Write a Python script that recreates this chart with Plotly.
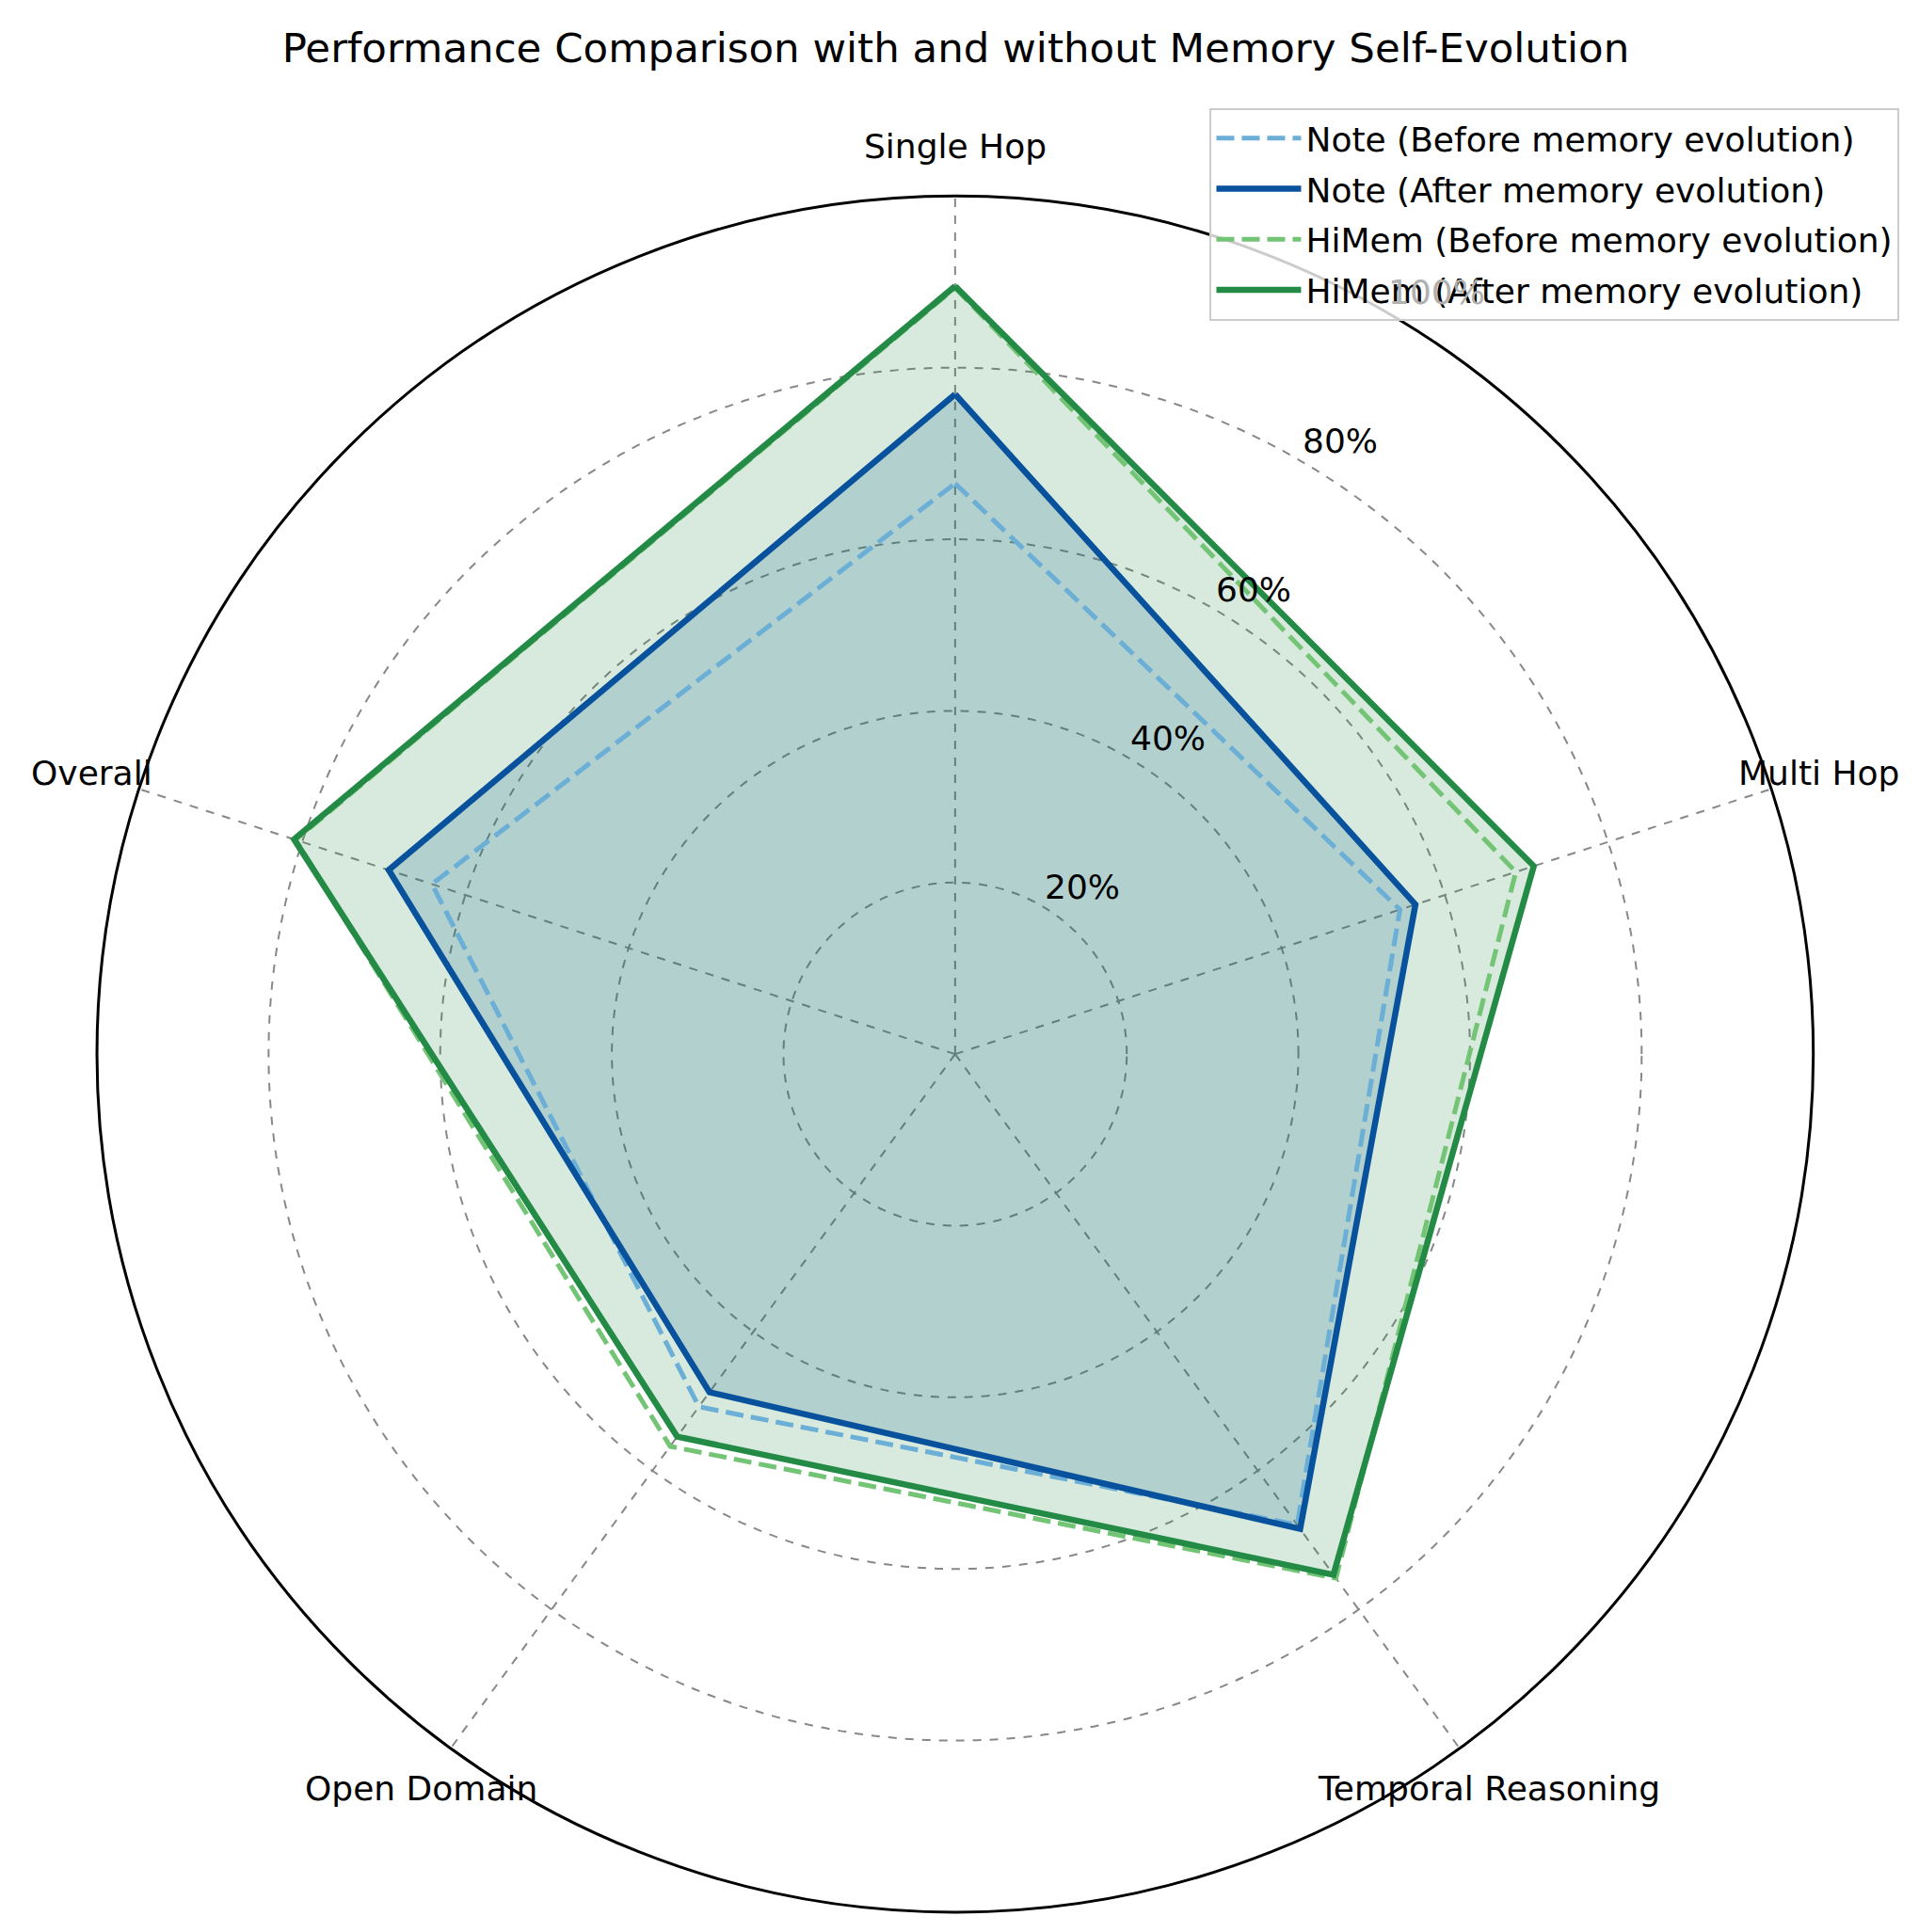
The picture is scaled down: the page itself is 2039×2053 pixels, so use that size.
import math
import plotly.graph_objects as go

# Radar categories and scores (%)
categories = ['Single Hop', 'Multi Hop', 'Temporal Reasoning', 'Open Domain', 'Overall']
note_before = [66.5, 54.5, 67.8, 50.8, 64.1]
note_after = [76.9, 56.4, 68.4, 48.7, 69.4]
himem_before = [89.3, 68.7, 75.5, 56.5, 80.8]
himem_after = [89.5, 70.9, 75.0, 55.1, 81.0]

radial_ticks = [20, 40, 60, 80, 100]
radial_labels = ['20%', '40%', '60%', '80%', '100%']

W, H = 2039, 2053
dom_x = [0.0466, 0.941]
dom_y = [0.014, 0.9026]

series = [
    ('Note (Before memory evolution)', note_before, '#6baed6', 'dash', None),
    ('Note (After memory evolution)', note_after, '#08519c', 'solid', 'rgba(8,81,156,0.18)'),
    ('HiMem (Before memory evolution)', himem_before, '#74c476', 'dash', None),
    ('HiMem (After memory evolution)', himem_after, '#238b45', 'solid', 'rgba(35,139,69,0.18)'),
]

theta = categories + categories[:1]
fig = go.Figure()

# fills first so that every outline sits on top of them
for name, vals, color, dash, fill in series:
    if fill:
        fig.add_trace(go.Scatterpolar(
            r=vals + vals[:1], theta=theta, mode='lines', fill='toself',
            fillcolor=fill, line=dict(width=0, color=fill),
            showlegend=False, hoverinfo='skip'))

for i, (name, vals, color, dash, fill) in enumerate(series):
    fig.add_trace(go.Scatterpolar(
        r=vals + vals[:1], theta=theta, name=name, mode='lines',
        legendgroup=str(i),
        line=dict(color=color, width=6.5 if dash == 'solid' else 5,
                  dash='solid' if dash == 'solid' else '19px,8px'),
    ))

# label positions (matplotlib style: horizontal text, centred outside the circle)
cx = (dom_x[0] + dom_x[1]) / 2 * W
cy = (1 - (dom_y[0] + dom_y[1]) / 2) * H
R = (dom_x[1] - dom_x[0]) * W / 2

annotations = []
for i, cat in enumerate(categories):
    a = math.radians(90 - 72 * i)
    px = cx + 1.058 * R * math.cos(a)
    py = cy - 1.058 * R * math.sin(a)
    annotations.append(dict(text=cat, x=px / W, y=1 - py / H, xref='paper', yref='paper',
                            xanchor='center', yanchor='middle', showarrow=False,
                            font=dict(size=36, color='black')))

a = math.radians(60)
for t, lab in zip(radial_ticks, radial_labels):
    r = t / 100 * R
    px = cx + r * math.cos(a) + 2
    py = cy - r * math.sin(a) + 3
    annotations.append(dict(text=lab, x=px / W, y=1 - py / H, xref='paper', yref='paper',
                            xanchor='left', yanchor='bottom', showarrow=False,
                            font=dict(size=36, color='#b0b0b0' if t == 100 else 'black')))

fig.update_layout(
    width=W, height=H,
    paper_bgcolor='white',
    font=dict(family='DejaVu Sans', size=36, color='black'),
    margin=dict(l=0, r=0, t=0, b=0),
    title=dict(text='Performance Comparison with and without Memory Self-Evolution',
               x=0.4941, xanchor='center', y=0.979, yanchor='middle',
               font=dict(size=43.5)),
    polar=dict(
        domain=dict(x=dom_x, y=dom_y),
        bgcolor='white',
        angularaxis=dict(rotation=90, direction='clockwise',
                         showline=True, linecolor='black', linewidth=3,
                         gridcolor='#888888', griddash='dash', gridwidth=1.5,
                         ticks='', showticklabels=False),
        radialaxis=dict(range=[0, 100], tickvals=radial_ticks,
                        angle=60, showline=False, ticks='', showticklabels=False,
                        gridcolor='#888888', griddash='dash', gridwidth=1.5),
    ),
    annotations=annotations,
    legend=dict(x=0.986, xanchor='right', y=0.948, yanchor='top',
                bgcolor='rgba(255,255,255,0.8)', bordercolor='#cccccc', borderwidth=2,
                font=dict(size=36), tracegroupgap=4, itemwidth=90),
)

fig.write_html('out.html')
